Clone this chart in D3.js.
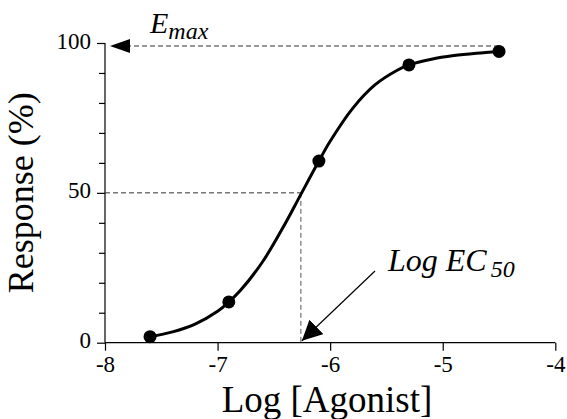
<!DOCTYPE html>
<html>
<head>
<meta charset="utf-8">
<script src="https://cdn.jsdelivr.net/npm/d3@7"></script>
<style>
  html, body { margin: 0; padding: 0; background: #fff; }
  svg { display: block; }
  svg text { font-family: "Liberation Serif", "Times New Roman", serif; }
</style>
</head>
<body>
<svg id="chart" width="567" height="419"></svg>
<script>
// Measured responses
const logDose = [-7.6, -6.9, -6.1, -5.3, -4.5];
const response = [2.0, 13.6, 60.6, 92.7, 97.2];

// Smooth concentration-response curve through the measurements
const curveLogDose = [-7.6, -7.4, -7.2, -7.0, -6.9, -6.8, -6.6, -6.4, -6.26, -6.1, -6.0, -5.8, -5.6, -5.4, -5.3, -5.1, -4.9, -4.7, -4.5];
const curveResponse = [2.0, 3.6, 6.2, 10.5, 13.6, 17.3, 27.0, 39.7, 49.5, 60.6, 67.2, 78.2, 86.1, 91.0, 92.7, 94.6, 95.8, 96.6, 97.2];

// Annotated parameters
const emax = 99;
const halfResponse = 50;
const logEC50 = -6.26;

// Axis ticks
const xTicks = [-8, -7, -6, -5, -4];
const yMajorTicks = [0, 50, 100];
const yMinorTicks = [10, 20, 30, 40, 60, 70, 80, 90];

const serif = '"Liberation Serif", "Times New Roman", serif';
const svg = d3.select("#chart");

const x = d3.scaleLinear().domain([-8, -4]).range([105, 555.3]);
const y = d3.scaleLinear().domain([0, 100]).range([342.7, 43]);

// Arrowhead for the EC50 pointer
svg.append("defs").append("marker")
  .attr("id", "arrowEC")
  .attr("viewBox", "0 0 20 20")
  .attr("refX", 20).attr("refY", 10)
  .attr("markerUnits", "userSpaceOnUse")
  .attr("markerWidth", 20).attr("markerHeight", 20)
  .attr("orient", "auto")
  .append("path").attr("d", "M0,0 L20,10 L0,20 Z").attr("fill", "#000");

// X axis
const xAxis = svg.append("g")
  .attr("transform", `translate(0,${y(0)})`)
  .call(d3.axisBottom(x).tickValues(xTicks).tickSize(8).tickPadding(5).tickFormat(d => String(d)));

// Y axis: minor ticks then labelled major ticks
svg.append("g")
  .attr("transform", `translate(${x(-8)},0)`)
  .call(d3.axisLeft(y).tickValues(yMinorTicks).tickSize(6).tickFormat(""))
  .call(g => g.select(".domain").remove());
const yAxis = svg.append("g")
  .attr("transform", `translate(${x(-8)},0)`)
  .call(d3.axisLeft(y).tickValues(yMajorTicks).tickSize(8).tickPadding(6).tickFormat(d => String(d)));

svg.selectAll("g").attr("font-family", null).attr("font-size", null);
svg.selectAll(".tick text")
  .style("font-family", serif)
  .style("font-size", "23px")
  .attr("fill", "#000");
yAxis.selectAll(".tick text").attr("dy", "0.22em");
svg.selectAll(".domain, .tick line").attr("stroke", "#000").attr("stroke-width", 1.2);
xAxis.select(".domain").attr("d", `M${x(-8)},0H${x(-4)}`);
yAxis.select(".domain").attr("d", `M0,${y(0)}V${y(100)}`);

// Dashed guide lines
const guide = svg.append("g")
  .attr("fill", "none")
  .attr("stroke", "#333")
  .attr("stroke-width", 1)
  .attr("stroke-dasharray", "5,3");

guide.append("line")
  .attr("x1", x(logDose[logDose.length - 1])).attr("x2", x(-8) + 25)
  .attr("y1", y(emax)).attr("y2", y(emax));

guide.append("line")
  .attr("x1", x(-8)).attr("x2", x(logEC50))
  .attr("y1", y(halfResponse)).attr("y2", y(halfResponse));

guide.append("line")
  .attr("x1", x(logEC50)).attr("x2", x(logEC50))
  .attr("y1", y(halfResponse)).attr("y2", y(0))
  .attr("stroke", "#555");

// Emax arrowhead (solid, pointing at the axis)
svg.append("path")
  .attr("d", `M${x(-8) + 5},${y(emax)} L${x(-8) + 25},${y(emax) - 7} L${x(-8) + 25},${y(emax) + 7} Z`)
  .attr("fill", "#000");

// EC50 pointer
svg.append("line")
  .attr("x1", 375).attr("y1", 271)
  .attr("x2", x(logEC50) + 1).attr("y2", y(0) - 2)
  .attr("stroke", "#000").attr("stroke-width", 1.2)
  .attr("marker-end", "url(#arrowEC)");

// Response curve
const line = d3.line()
  .x(d => x(d[0]))
  .y(d => y(d[1]))
  .curve(d3.curveCatmullRom.alpha(0.5));
svg.append("path")
  .datum(d3.zip(curveLogDose, curveResponse))
  .attr("d", line)
  .attr("fill", "none")
  .attr("stroke", "#000")
  .attr("stroke-width", 3);

// Data points
svg.append("g").selectAll("circle")
  .data(d3.zip(logDose, response))
  .join("circle")
  .attr("cx", d => x(d[0]))
  .attr("cy", d => y(d[1]))
  .attr("r", 6.5)
  .attr("fill", "#000");

// Annotation labels
const emaxLabel = svg.append("text")
  .attr("x", 150).attr("y", 33)
  .style("font-style", "italic")
  .style("font-size", "30px")
  .attr("fill", "#000");
emaxLabel.append("tspan").text("E");
emaxLabel.append("tspan").style("font-size", "24px").attr("dy", 6).text("max");

const ecLabel = svg.append("text")
  .attr("x", 388).attr("y", 271)
  .style("font-style", "italic")
  .style("font-size", "32px")
  .attr("fill", "#000");
ecLabel.append("tspan").text("Log EC");
ecLabel.append("tspan").style("font-size", "24px").attr("dx", 4).attr("dy", 6).text("50");

// Axis titles
svg.append("text")
  .attr("x", 327).attr("y", 412)
  .attr("text-anchor", "middle")
  .style("font-size", "37px")
  .attr("fill", "#000")
  .text("Log [Agonist]");

svg.append("text")
  .attr("transform", `translate(33,${(y(0) + y(100)) / 2}) rotate(-90)`)
  .attr("text-anchor", "middle")
  .style("font-size", "36px")
  .attr("fill", "#000")
  .text("Response (%)");
</script>
</body>
</html>
